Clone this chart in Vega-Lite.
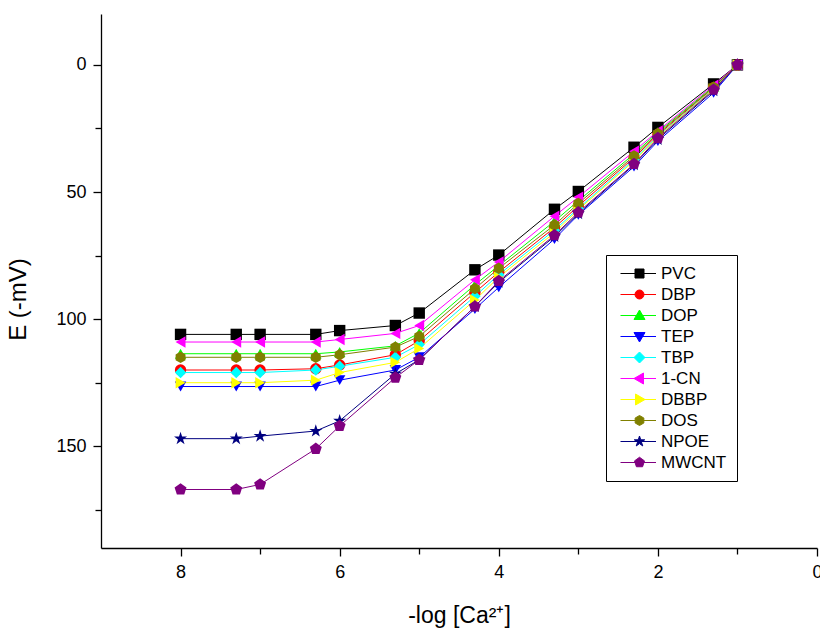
{
  "$schema": "https://vega.github.io/schema/vega-lite/v6.json",
  "width": 716,
  "height": 534,
  "autosize": "none",
  "padding": {"left": 101, "top": 14, "right": 3, "bottom": 81},
  "background": "white",
  "config": {
    "view": {"stroke": null},
    "font": "Liberation Sans",
    "axis": {
      "grid": false,
      "domainColor": "black",
      "domainWidth": 1.3,
      "tickColor": "black",
      "tickWidth": 1.3,
      "labelColor": "black",
      "labelFont": "Liberation Sans",
      "labelFontSize": 18,
      "labelPadding": 7,
      "titleFont": "Liberation Sans",
      "titleFontWeight": "normal",
      "titleColor": "black"
    }
  },
  "data": {"values": [
    {"s":"PVC","x":8,"e":106},{"s":"PVC","x":7.3,"e":106},{"s":"PVC","x":7,"e":106},{"s":"PVC","x":6.3,"e":106},{"s":"PVC","x":6,"e":104.5},{"s":"PVC","x":5.3,"e":102.5},{"s":"PVC","x":5,"e":97.6},{"s":"PVC","x":4.3,"e":80.6},{"s":"PVC","x":4,"e":74.8},{"s":"PVC","x":3.3,"e":56.8},{"s":"PVC","x":3,"e":49.8},{"s":"PVC","x":2.3,"e":32.4},{"s":"PVC","x":2,"e":24.6},{"s":"PVC","x":1.3,"e":7.5},{"s":"PVC","x":1,"e":0},
    {"s":"DBP","x":8,"e":120},{"s":"DBP","x":7.3,"e":120},{"s":"DBP","x":7,"e":120},{"s":"DBP","x":6.3,"e":119.5},{"s":"DBP","x":6,"e":118},{"s":"DBP","x":5.3,"e":114},{"s":"DBP","x":5,"e":108.5},{"s":"DBP","x":4.3,"e":89.5},{"s":"DBP","x":4,"e":81.5},{"s":"DBP","x":3.3,"e":64},{"s":"DBP","x":3,"e":55.5},{"s":"DBP","x":2.3,"e":36.5},{"s":"DBP","x":2,"e":27.5},{"s":"DBP","x":1.3,"e":9},{"s":"DBP","x":1,"e":0},
    {"s":"DOP","x":8,"e":113.6},{"s":"DOP","x":7.3,"e":113.6},{"s":"DOP","x":7,"e":113.6},{"s":"DOP","x":6.3,"e":113.6},{"s":"DOP","x":6,"e":112.9},{"s":"DOP","x":5.3,"e":110.5},{"s":"DOP","x":5,"e":105.5},{"s":"DOP","x":4.3,"e":86.5},{"s":"DOP","x":4,"e":79},{"s":"DOP","x":3.3,"e":61.5},{"s":"DOP","x":3,"e":53.5},{"s":"DOP","x":2.3,"e":35},{"s":"DOP","x":2,"e":26.5},{"s":"DOP","x":1.3,"e":8.5},{"s":"DOP","x":1,"e":0},
    {"s":"TEP","x":8,"e":126.5},{"s":"TEP","x":7.3,"e":126.5},{"s":"TEP","x":7,"e":126.5},{"s":"TEP","x":6.3,"e":126.5},{"s":"TEP","x":6,"e":124},{"s":"TEP","x":5.3,"e":120},{"s":"TEP","x":5,"e":115},{"s":"TEP","x":4.3,"e":96},{"s":"TEP","x":4,"e":87.5},{"s":"TEP","x":3.3,"e":68.5},{"s":"TEP","x":3,"e":59},{"s":"TEP","x":2.3,"e":40},{"s":"TEP","x":2,"e":30},{"s":"TEP","x":1.3,"e":11},{"s":"TEP","x":1,"e":0},
    {"s":"TBP","x":8,"e":121},{"s":"TBP","x":7.3,"e":121},{"s":"TBP","x":7,"e":121},{"s":"TBP","x":6.3,"e":120},{"s":"TBP","x":6,"e":118.5},{"s":"TBP","x":5.3,"e":115},{"s":"TBP","x":5,"e":110},{"s":"TBP","x":4.3,"e":91},{"s":"TBP","x":4,"e":82.5},{"s":"TBP","x":3.3,"e":65},{"s":"TBP","x":3,"e":56.5},{"s":"TBP","x":2.3,"e":37.2},{"s":"TBP","x":2,"e":28},{"s":"TBP","x":1.3,"e":9.3},{"s":"TBP","x":1,"e":0},
    {"s":"1-CN","x":8,"e":109},{"s":"1-CN","x":7.3,"e":109},{"s":"1-CN","x":7,"e":109},{"s":"1-CN","x":6.3,"e":109},{"s":"1-CN","x":6,"e":108},{"s":"1-CN","x":5.3,"e":105.6},{"s":"1-CN","x":5,"e":102.5},{"s":"1-CN","x":4.3,"e":84.5},{"s":"1-CN","x":4,"e":77.5},{"s":"1-CN","x":3.3,"e":59.5},{"s":"1-CN","x":3,"e":52},{"s":"1-CN","x":2.3,"e":34},{"s":"1-CN","x":2,"e":26},{"s":"1-CN","x":1.3,"e":8},{"s":"1-CN","x":1,"e":0},
    {"s":"DBBP","x":8,"e":125},{"s":"DBBP","x":7.3,"e":125},{"s":"DBBP","x":7,"e":125},{"s":"DBBP","x":6.3,"e":124},{"s":"DBBP","x":6,"e":121},{"s":"DBBP","x":5.3,"e":117},{"s":"DBBP","x":5,"e":111.5},{"s":"DBBP","x":4.3,"e":92.5},{"s":"DBBP","x":4,"e":83.5},{"s":"DBBP","x":3.3,"e":66},{"s":"DBBP","x":3,"e":57},{"s":"DBBP","x":2.3,"e":37.8},{"s":"DBBP","x":2,"e":28.3},{"s":"DBBP","x":1.3,"e":9.5},{"s":"DBBP","x":1,"e":0},
    {"s":"DOS","x":8,"e":115},{"s":"DOS","x":7.3,"e":115},{"s":"DOS","x":7,"e":115},{"s":"DOS","x":6.3,"e":115},{"s":"DOS","x":6,"e":114},{"s":"DOS","x":5.3,"e":111},{"s":"DOS","x":5,"e":106.8},{"s":"DOS","x":4.3,"e":88},{"s":"DOS","x":4,"e":80},{"s":"DOS","x":3.3,"e":63},{"s":"DOS","x":3,"e":54.5},{"s":"DOS","x":2.3,"e":35.8},{"s":"DOS","x":2,"e":27},{"s":"DOS","x":1.3,"e":8.8},{"s":"DOS","x":1,"e":0},
    {"s":"NPOE","x":8,"e":147},{"s":"NPOE","x":7.3,"e":147},{"s":"NPOE","x":7,"e":146},{"s":"NPOE","x":6.3,"e":144},{"s":"NPOE","x":6,"e":140},{"s":"NPOE","x":5.3,"e":121.5},{"s":"NPOE","x":5,"e":116},{"s":"NPOE","x":4.3,"e":95},{"s":"NPOE","x":4,"e":85.5},{"s":"NPOE","x":3.3,"e":67.5},{"s":"NPOE","x":3,"e":58.5},{"s":"NPOE","x":2.3,"e":39.3},{"s":"NPOE","x":2,"e":29.3},{"s":"NPOE","x":1.3,"e":10.2},{"s":"NPOE","x":1,"e":0},
    {"s":"MWCNT","x":8,"e":167},{"s":"MWCNT","x":7.3,"e":167},{"s":"MWCNT","x":7,"e":165},{"s":"MWCNT","x":6.3,"e":151},{"s":"MWCNT","x":6,"e":142},{"s":"MWCNT","x":5.3,"e":123},{"s":"MWCNT","x":5,"e":116},{"s":"MWCNT","x":4.3,"e":95},{"s":"MWCNT","x":4,"e":85},{"s":"MWCNT","x":3.3,"e":67},{"s":"MWCNT","x":3,"e":58},{"s":"MWCNT","x":2.3,"e":39},{"s":"MWCNT","x":2,"e":28.8},{"s":"MWCNT","x":1.3,"e":9.8},{"s":"MWCNT","x":1,"e":0}
  ]},
  "encoding": {
    "x": {
      "field": "x", "type": "quantitative",
      "scale": {"domain": [0, 9], "reverse": true, "nice": false, "zero": false},
      "axis": {
        "title": "-log [Ca²⁺]",
        "titleFontSize": 23,
        "titleBaseline": "alphabetic",
        "titleY": 74,
        "values": [0,1,2,3,4,5,6,7,8],
        "labelExpr": "datum.value % 2 === 0 ? datum.label : ''",
        "tickSize": {"condition": {"test": "datum.value % 2 === 0", "value": 8}, "value": 6},
        "labelFlush": false,
        "labelOverlap": false
      }
    },
    "y": {
      "field": "e", "type": "quantitative",
      "scale": {"domain": [-20, 190], "reverse": true, "nice": false, "zero": false},
      "axis": {
        "title": "E (-mV)",
        "titleFontSize": 24,
        "titleX": -71,
        "titleY": 285,
        "titleAngle": -90,
        "titleBaseline": "bottom",
        "titleAlign": "center",
        "values": [0,25,50,75,100,125,150,175],
        "labelExpr": "datum.value % 50 === 0 ? datum.label : ''",
        "tickSize": {"condition": {"test": "datum.value % 50 === 0", "value": 8}, "value": 6},
        "labelOverlap": false
      }
    },
    "color": {
      "field": "s", "type": "nominal",
      "scale": {
        "domain": ["PVC","DBP","DOP","TEP","TBP","1-CN","DBBP","DOS","NPOE","MWCNT"],
        "range": ["#000000","#ff0000","#00ff00","#0000ff","#00ffff","#ff00ff","#ffff00","#808000","#000080","#800080"]
      },
      "legend": {
        "title": null,
        "orient": "none",
        "legendX": 505,
        "legendY": 241,
        "padding": 10,
        "strokeColor": "black",
        "fillColor": "white",
        "labelFont": "Liberation Sans",
        "labelFontSize": 17,
        "labelColor": "black",
        "labelOffset": 28,
        "labelLimit": 200,
        "symbolSize": 100,
        "symbolOffset": 0,
        "rowPadding": 3,
        "symbolStrokeWidth": 1,
        "encode": {
          "symbols": {
            "update": {
              "shape": {"signal": "({'PVC':'M-0.8,0H6.3M2.1,-0.9H3.9V0.9H2.1Z','DBP':'M-0.8,0H6.3M2.1,0A0.9,0.9 0 1,0 3.9,0A0.9,0.9 0 1,0 2.1,0Z','DOP':'M-0.8,0H6.3M3,-1.1L4.1,0.8L1.9,0.8Z','TEP':'M-0.8,0H6.3M3,1.1L4.1,-0.8L1.9,-0.8Z','TBP':'M-0.8,0H6.3M3,-1.1L4.1,0L3,1.1L1.9,0Z','1-CN':'M-0.8,0H6.3M1.9,0L3.8,-1.1L3.8,1.1Z','DBBP':'M-0.8,0H6.3M4.1,0L2.2,-1.1L2.2,1.1Z','DOS':'M-0.8,0H6.3M3,-1L3.866,-0.5L3.866,0.5L3,1L2.134,0.5L2.134,-0.5Z','NPOE':'M-0.8,0H6.3M3,-1.1L3.247,-0.34L4.046,-0.34L3.399,0.13L3.647,0.89L3,0.42L2.353,0.89L2.601,0.13L1.954,-0.34L2.753,-0.34Z','MWCNT':'M-0.8,0H6.3M3,-1.05L3.999,-0.324L3.617,0.849L2.383,0.849L2.001,-0.324Z'})[datum.value]"},
              "fill": {"signal": "scale('color', datum.value)"},
              "stroke": {"signal": "scale('color', datum.value)"},
              "strokeWidth": {"value": 1},
              "opacity": {"value": 1}
            }
          }
        }
      }
    }
  },
  "layer": [
    {
      "mark": {"type": "line", "strokeWidth": 1},
      "encoding": {
        "detail": {"field": "s"}
      }
    },
    {
      "mark": {"type": "point", "filled": true, "opacity": 1, "size": 130},
      "encoding": {
        "shape": {
          "field": "s", "type": "nominal",
          "scale": {
            "domain": ["MWCNT","NPOE","DOS","DBBP","1-CN","TBP","TEP","DOP","DBP","PVC"],
            "range": [
              "M0,-1.1L1.046,-0.34L0.647,0.89L-0.647,0.89L-1.046,-0.34Z",
              "M0,-1.2L0.269,-0.371L1.141,-0.371L0.436,0.142L0.706,0.971L0,0.458L-0.706,0.971L-0.436,0.142L-1.141,-0.371L-0.269,-0.371Z",
              "M0,-1L0.866,-0.5L0.866,0.5L0,1L-0.866,0.5L-0.866,-0.5Z",
              "triangle-right",
              "triangle-left",
              "diamond",
              "triangle-down",
              "triangle-up",
              "circle",
              "square"
            ]
          },
          "legend": null
        }
      }
    }
  ]
}
